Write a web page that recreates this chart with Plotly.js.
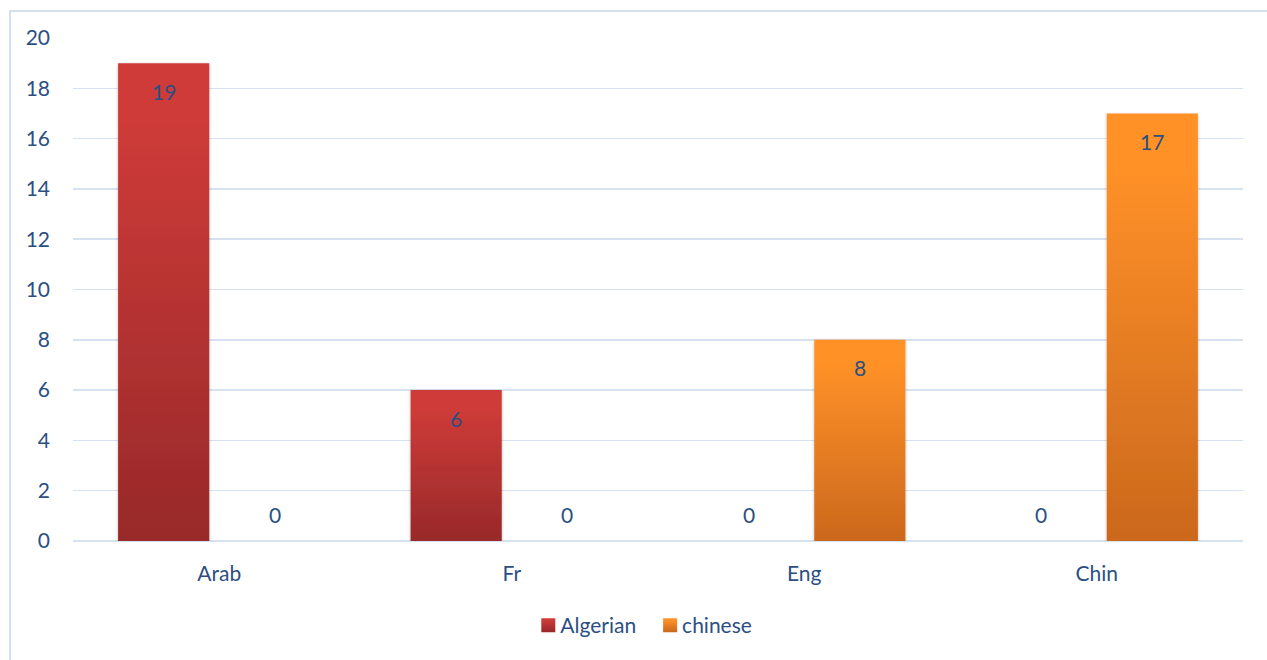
<!DOCTYPE html>
<html>
<head>
<meta charset="utf-8">
<script src="https://cdn.plot.ly/plotly-3.0.1.min.js"></script>
<style>
  html, body { margin: 0; padding: 0; background: #fff; overflow: hidden; }
  #frame { position: absolute; left: 9px; top: 10px; width: 1400px; height: 800px;
           border: 2px solid #D5E0EF; box-sizing: border-box; }
  #chart { position: absolute; left: 0; top: 0; width: 1267px; height: 660px; }
</style>
</head>
<body>
<div id="frame"></div>
<div id="chart"></div>
<script>
// Languages on the x axis and counts per group
const categories = ['Arab', 'Fr', 'Eng', 'Chin'];
const algerian = [19, 6, 0, 0];
const chinese = [0, 0, 8, 17];
const yTicks = [0, 2, 4, 6, 8, 10, 12, 14, 16, 18, 20];

const textColor = '#2B4F82';
const gridColor = '#D6E1F1';
const fontFamily = 'Lato, "Open Sans", sans-serif';
const fontSize = 21;

const W = 1267, H = 660;
const margin = { l: 73, r: 24, t: 38, b: 119 };
const bargap = 0.24;
const bargroupgap = 0.18;

const traces = [
  { type: 'bar', name: 'Algerian', x: categories, y: algerian,
    marker: { color: '#C0393B' }, hoverinfo: 'skip' },
  { type: 'bar', name: 'chinese', x: categories, y: chinese,
    marker: { color: '#F28A2A' }, hoverinfo: 'skip' }
];

// value labels: inside the top of each bar, just above the baseline for zeros
const plotW = W - margin.l - margin.r;
const groupOffset = plotW / categories.length * (1 - bargap) / 4;
const annotations = [];
[algerian, chinese].forEach((vals, s) => {
  vals.forEach((v, i) => {
    annotations.push({
      x: categories[i], y: v, xref: 'x', yref: 'y',
      text: String(v), showarrow: false,
      xshift: (s === 0 ? -1 : 1) * groupOffset,
      yshift: v === 0 ? 27 : -28,
      yanchor: 'middle', xanchor: 'center',
      font: { family: fontFamily, size: fontSize, color: textColor }
    });
  });
});

const layout = {
  width: W, height: H,
  margin: margin,
  paper_bgcolor: 'rgba(0,0,0,0)',
  plot_bgcolor: 'rgba(0,0,0,0)',
  barmode: 'group',
  bargap: bargap,
  bargroupgap: bargroupgap,
  font: { family: fontFamily, size: fontSize, color: textColor },
  xaxis: {
    type: 'category',
    showgrid: false, zeroline: false, showline: false,
    ticks: '', ticklabelstandoff: 18,
    tickfont: { family: fontFamily, size: fontSize, color: textColor }
  },
  yaxis: {
    range: [0, 20], tickvals: yTicks, ticktext: yTicks.map(String),
    showgrid: true, gridcolor: gridColor, gridwidth: 1.5,
    zeroline: true, zerolinecolor: gridColor, zerolinewidth: 1.5,
    showline: false, ticks: '', ticklabelstandoff: 22,
    tickfont: { family: fontFamily, size: fontSize, color: textColor }
  },
  showlegend: true,
  legend: {
    orientation: 'h', x: 0.49, xanchor: 'center', y: -0.168, yanchor: 'middle',
    font: { family: fontFamily, size: fontSize, color: textColor },
    itemwidth: 30, traceorder: 'normal'
  },
  annotations: annotations
};

// vertical gradients for the bars: light at the top, darker at the base
const gradients = [
  { id: 'gradAlg', top: '#CE3B38', bottom: '#98292A' },
  { id: 'gradChi', top: '#FF9128', bottom: '#CB681D' }
];

Plotly.newPlot('chart', traces, layout, { displayModeBar: false, staticPlot: true }).then(gd => {
  const svg = gd.querySelector('svg.main-svg');
  const ns = 'http://www.w3.org/2000/svg';
  let defs = svg.querySelector('defs');
  if (!defs) { defs = document.createElementNS(ns, 'defs'); svg.insertBefore(defs, svg.firstChild); }
  gradients.forEach(g => {
    const lg = document.createElementNS(ns, 'linearGradient');
    lg.setAttribute('id', g.id);
    lg.setAttribute('x1', '0'); lg.setAttribute('y1', '0');
    lg.setAttribute('x2', '0'); lg.setAttribute('y2', '1');
    [[0, g.top], [0.12, g.top], [1, g.bottom]].forEach(([o, c]) => {
      const st = document.createElementNS(ns, 'stop');
      st.setAttribute('offset', o);
      st.setAttribute('stop-color', c);
      lg.appendChild(st);
    });
    defs.appendChild(lg);
  });
  const f = document.createElementNS(ns, 'filter');
  f.setAttribute('id', 'barShadow');
  f.setAttribute('x', '-20%'); f.setAttribute('y', '-5%');
  f.setAttribute('width', '140%'); f.setAttribute('height', '110%');
  const ds = document.createElementNS(ns, 'feDropShadow');
  ds.setAttribute('dx', '0'); ds.setAttribute('dy', '1');
  ds.setAttribute('stdDeviation', '1.6');
  ds.setAttribute('flood-color', '#000'); ds.setAttribute('flood-opacity', '0.28');
  f.appendChild(ds);
  defs.appendChild(f);

  gd.querySelectorAll('.barlayer .trace').forEach((tr, i) => {
    tr.querySelectorAll('path').forEach(p => {
      p.style.fill = 'url(#' + gradients[i].id + ')';
      p.setAttribute('filter', 'url(#barShadow)');
    });
  });
  // legend: gradient swatches, slightly larger, with text set close to the swatch
  gd.querySelectorAll('.legend .traces').forEach((tr, i) => {
    tr.querySelectorAll('.legendpoints path').forEach(p => {
      p.style.fill = 'url(#' + gradients[i].id + ')';
      p.setAttribute('d', 'M7,7H-7V-7H7Z');
    });
    const t = tr.querySelector('.legendtext');
    if (t) t.setAttribute('x', 32);
    if (i === 1) {
      const tf = tr.getAttribute('transform') || '';
      const m = tf.match(/translate\(([-\d.]+),\s*([-\d.]+)\)/);
      if (m) tr.setAttribute('transform', 'translate(' + (parseFloat(m[1]) + 1) + ',' + m[2] + ')');
    }
  });
});
</script>
</body>
</html>
